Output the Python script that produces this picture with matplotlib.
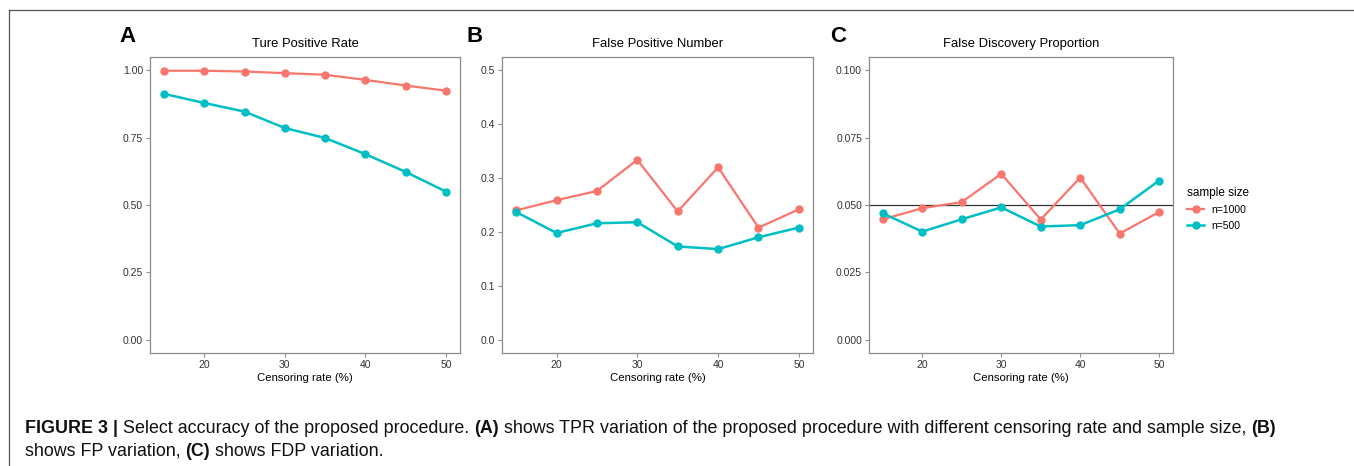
import matplotlib
matplotlib.use("Agg")
import matplotlib.pyplot as plt
from matplotlib.lines import Line2D

plt.rcParams["font.family"] = ["Liberation Sans", "DejaVu Sans"]

RED = "#F8766D"
TEAL = "#00BFC4"
FRAME = "#8C8C8C"
TICKTXT = "#4D4D4D"

censoring = [15, 20, 25, 30, 35, 40, 45, 50]

tpr_1000 = [0.999, 0.999, 0.996, 0.990, 0.984, 0.965, 0.944, 0.925]
tpr_500 = [0.913, 0.879, 0.847, 0.786, 0.749, 0.689, 0.623, 0.550]

fp_1000 = [0.240, 0.259, 0.276, 0.334, 0.238, 0.320, 0.208, 0.242]
fp_500 = [0.237, 0.198, 0.216, 0.218, 0.173, 0.168, 0.190, 0.208]

fdp_1000 = [0.0447, 0.0488, 0.0511, 0.0616, 0.0446, 0.0602, 0.0394, 0.0474]
fdp_500 = [0.0469, 0.0401, 0.0447, 0.0491, 0.0420, 0.0425, 0.0484, 0.0591]

panels = [
    ("A", "Ture Positive Rate", tpr_1000, tpr_500,
     [0.0, 0.25, 0.5, 0.75, 1.0], ["0.00", "0.25", "0.50", "0.75", "1.00"], (-0.05, 1.05)),
    ("B", "False Positive Number", fp_1000, fp_500,
     [0.0, 0.1, 0.2, 0.3, 0.4, 0.5], ["0.0", "0.1", "0.2", "0.3", "0.4", "0.5"], (-0.025, 0.525)),
    ("C", "False Discovery Proportion", fdp_1000, fdp_500,
     [0.0, 0.025, 0.05, 0.075, 0.1], ["0.000", "0.025", "0.050", "0.075", "0.100"], (-0.005, 0.105)),
]

W, H = 1354, 466
fig = plt.figure(figsize=(W / 100, H / 100), dpi=100)

# axes boxes in pixels: left, right
boxes = [(150, 460), (502, 813), (869, 1173)]
top_px, bot_px = 57, 353
letter_x = [128, 475, 838]

for (letter, title, s1000, s500, yt, ytl, ylim), (l, r), lx in zip(panels, boxes, letter_x):
    ax = fig.add_axes([l / W, 1 - bot_px / H, (r - l) / W, (bot_px - top_px) / H])
    ax.plot(censoring, s1000, color=RED, lw=1.6, marker="o", ms=5, zorder=3)
    ax.plot(censoring, s500, color=TEAL, lw=1.8, marker="o", ms=5, zorder=3)
    if letter == "C":
        ax.axhline(0.05, color="#333333", lw=0.9, zorder=2)
    ax.set_xlim(13.25, 51.75)
    ax.set_ylim(*ylim)
    ax.set_xticks([20, 30, 40, 50])
    ax.set_yticks(yt)
    ax.set_yticklabels(ytl)
    ax.tick_params(colors=FRAME, labelcolor="#333333", labelsize=7.5, length=3, width=0.8, pad=2)
    for sp in ax.spines.values():
        sp.set_color(FRAME)
        sp.set_linewidth(0.9)
    ax.set_xlabel("Censoring rate (%)", fontsize=8.2, labelpad=2)
    ax.set_title(title, fontsize=9.4, pad=7)
    fig.text(lx / W, 1 - 37 / H, letter, fontsize=16, fontweight="bold",
             ha="center", va="center")

handles = [
    Line2D([], [], color=RED, lw=1.6, marker="o", ms=5),
    Line2D([], [], color=TEAL, lw=1.8, marker="o", ms=5),
]
leg = fig.legend(handles, ["n=1000", "n=500"], title="sample size",
                 loc="upper left", bbox_to_anchor=(1178 / W, 1 - 178 / H),
                 frameon=False, fontsize=7.5, title_fontsize=8.5,
                 handlelength=1.6, labelspacing=0.55, handletextpad=0.7)
leg._legend_box.align = "left"

# outer frame lines
fig.add_artist(Line2D([9 / W, 1], [1 - 9.5 / H, 1 - 9.5 / H], color="#555555", lw=0.9))
fig.add_artist(Line2D([9 / W, 9 / W], [0, 1 - 9.5 / H], color="#555555", lw=0.9))

# caption with mixed bold / regular pieces
fig.canvas.draw()
renderer = fig.canvas.get_renderer()


def write_line(pieces, x0, y0, size):
    x = x0
    for txt, bold in pieces:
        t = fig.text(x / W, 1 - y0 / H, txt, fontsize=size,
                     fontweight="bold" if bold else "normal",
                     ha="left", va="baseline", color="#111111")
        bb = t.get_window_extent(renderer=renderer)
        x += bb.width


cap_size = 12.9
write_line([
    ("FIGURE 3 | ", True),
    ("Select accuracy of the proposed procedure. ", False),
    ("(A)", True),
    (" shows TPR variation of the proposed procedure with different censoring rate and sample size, ", False),
    ("(B)", True),
], 25, 433, cap_size)
write_line([
    ("shows FP variation, ", False),
    ("(C)", True),
    (" shows FDP variation.", False),
], 25, 456, cap_size)

fig.savefig("out.png", dpi=100)
